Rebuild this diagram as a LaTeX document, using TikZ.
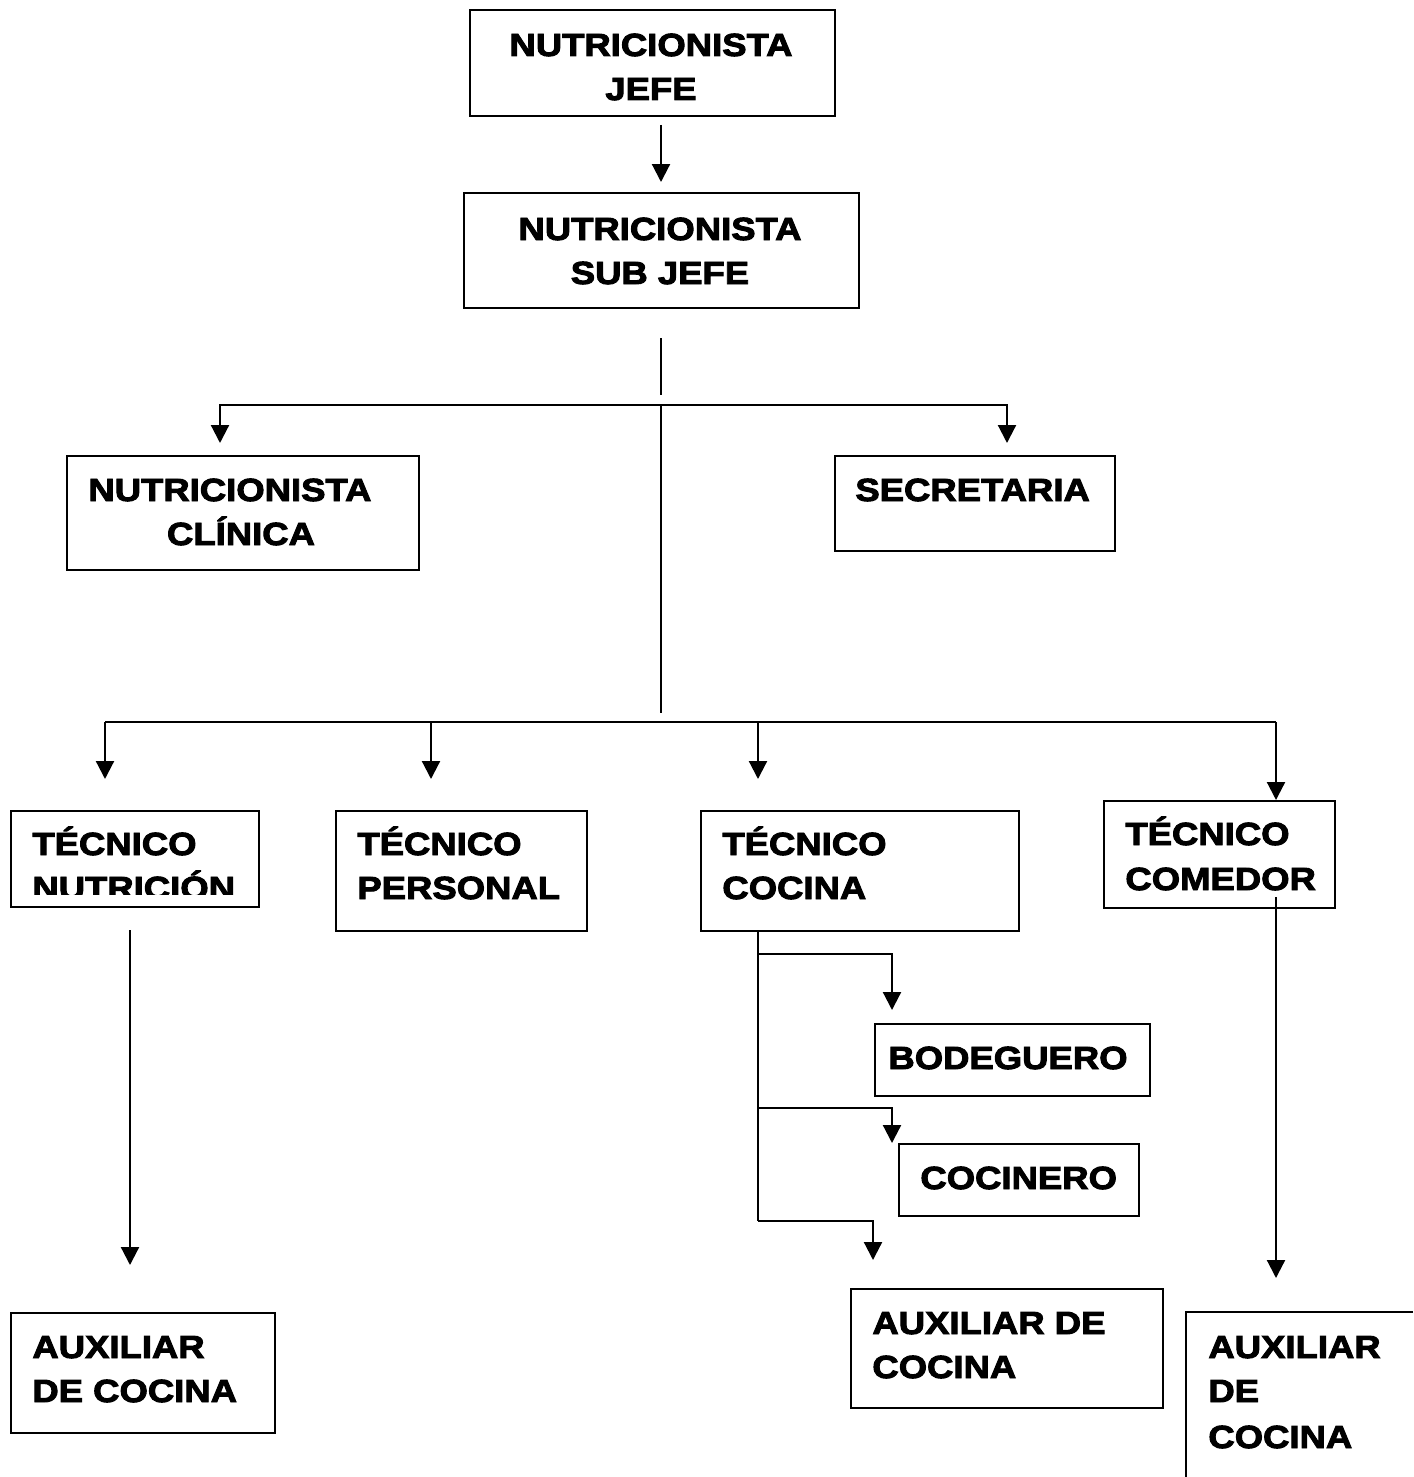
\documentclass[tikz,border=0pt]{standalone}
\usepackage{fontspec}
\newfontfamily\lblfont{Liberation Sans}[BoldFeatures={FakeBold=3,FakeStretch=1.14}]
\usetikzlibrary{arrows.meta}
\begin{document}
\begin{tikzpicture}[x=0.5pt,y=-0.5pt,
  box/.style={draw,line width=1pt,rectangle,inner sep=0pt,anchor=north west},
  lbl/.style={inner sep=0pt,font=\lblfont\bfseries\fontsize{16}{20}\selectfont},
  conn/.style={line width=1.1pt},
  arr/.style={line width=1.1pt,-{Triangle[width=9pt,length=9pt]}}]
\useasboundingbox (0,0) rectangle (1413,1477);
% boxes
\node[box,minimum width=182.5pt,minimum height=53pt] (jefe) at (469,9) {};
\node[box,minimum width=197.5pt,minimum height=57.5pt] (subjefe) at (463,192) {};
\node[box,minimum width=176pt,minimum height=57pt] (clinica) at (66,455) {};
\node[box,minimum width=140pt,minimum height=47.5pt] (secre) at (834,455) {};
\node[box,minimum width=124pt,minimum height=48pt] (tnut) at (10,810) {};
\node[box,minimum width=125.5pt,minimum height=60pt] (tper) at (335,810) {};
\node[box,minimum width=159pt,minimum height=60pt] (tcoc) at (700,810) {};
\node[box,minimum width=115.5pt,minimum height=53.5pt] (tcom) at (1103,800) {};
\node[box,minimum width=132pt,minimum height=60pt] (auxl) at (10,1312) {};
\node[box,minimum width=137.5pt,minimum height=36pt] (bode) at (874,1023) {};
\node[box,minimum width=120pt,minimum height=36pt] (coci) at (898,1143) {};
\node[box,minimum width=156pt,minimum height=59.5pt] (auxm) at (850,1288) {};
\draw[line width=1pt] (1413,1312) -- (1186,1312) -- (1186,1477);
% labels
\node[lbl,anchor=base] (l1a) at (651,56) {NUTRICIONISTA};
\node[lbl,anchor=base] (l1b) at (651,100) {JEFE};
\node[lbl,anchor=base] (l2a) at (660,240) {NUTRICIONISTA};
\node[lbl,anchor=base] (l2b) at (660,284) {SUB JEFE};
\node[lbl,anchor=base west] (l3a) at (88,501) {NUTRICIONISTA};
\node[lbl,anchor=base] (l3b) at (241,545) {CLÍNICA};
\node[lbl,anchor=base west] (l4) at (855,501) {SECRETARIA};
\begin{scope}
\clip (10,810) rectangle (258,894);
\node[lbl,anchor=base west] (l5a) at (32,855) {TÉCNICO};
\node[lbl,anchor=base west] (l5b) at (32,899) {NUTRICIÓN};
\end{scope}
\node[lbl,anchor=base west] (l6a) at (357,855) {TÉCNICO};
\node[lbl,anchor=base west] (l6b) at (357,899) {PERSONAL};
\node[lbl,anchor=base west] (l7a) at (722,855) {TÉCNICO};
\node[lbl,anchor=base west] (l7b) at (722,899) {COCINA};
\node[lbl,anchor=base west] (l8a) at (1125,845) {TÉCNICO};
\node[lbl,anchor=base west] (l8b) at (1125,890) {COMEDOR};
\node[lbl,anchor=base west] (l9a) at (32,1358) {AUXILIAR};
\node[lbl,anchor=base west] (l9b) at (32,1402) {DE COCINA};
\node[lbl,anchor=base] (l10) at (1008,1069) {BODEGUERO};
\node[lbl,anchor=base west] (l11) at (920,1189) {COCINERO};
\node[lbl,anchor=base west] (l12a) at (872,1334) {AUXILIAR DE};
\node[lbl,anchor=base west] (l12b) at (872,1378) {COCINA};
\node[lbl,anchor=base west] (l13a) at (1208,1358) {AUXILIAR};
\node[lbl,anchor=base west] (l13b) at (1208,1402) {DE};
\node[lbl,anchor=base west] (l13c) at (1208,1448) {COCINA};
% coordinates
\coordinate (a1) at (661,125);
\coordinate (a2) at (661,182);
\coordinate (s1) at (661,338);
\coordinate (s2) at (661,395);
\coordinate (h1) at (220,405);
\coordinate (h2) at (1007,405);
\coordinate (hc) at (661,405);
\coordinate (hc2) at (661,713);
\coordinate (g1) at (105,722);
\coordinate (g4) at (1276,722);
\coordinate (n1) at (130,930);
\coordinate (n2) at (130,1265);
\coordinate (c0) at (758,930);
\coordinate (c1) at (758,954);
\coordinate (c2) at (758,1108);
\coordinate (c3) at (758,1221);
\coordinate (m1) at (1276,897);
\coordinate (m2) at (1276,1278);
% connectors
\draw[arr] (a1) -- (a2);
\draw[conn] (s1) -- (s2);
\draw[conn] (hc) -- (hc2);
\draw[arr] (hc) -- (h1) -- (220,443);
\draw[arr] (hc) -- (h2) -- (1007,443);
\draw[conn] (g1) -- (g4);
\draw[arr] (g1) -- (105,779);
\draw[arr] (431,722) -- (431,779);
\draw[arr] (758,722) -- (758,779);
\draw[arr] (g4) -- (1276,800);
\draw[arr] (n1) -- (n2);
\draw[conn] (c0) -- (c3);
\draw[arr] (c1) -- (892,954) -- (892,1010);
\draw[arr] (c2) -- (892,1108) -- (892,1143);
\draw[arr] (c3) -- (873,1221) -- (873,1260);
\draw[arr] (m1) -- (m2);
\end{tikzpicture}
\end{document}
